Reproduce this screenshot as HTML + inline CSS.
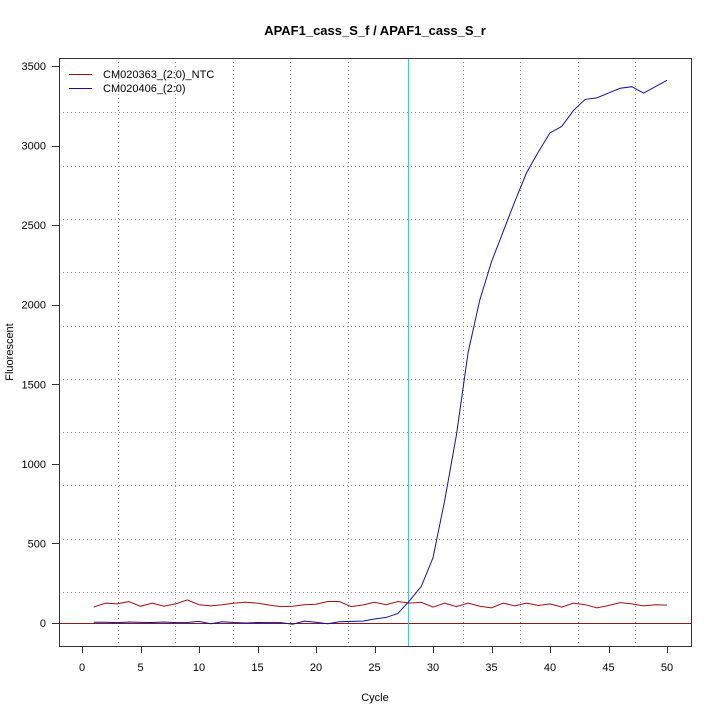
<!DOCTYPE html>
<html><head><style>body{margin:0;background:#fff}svg{display:block}text{font-family:"Liberation Sans",sans-serif;font-size:11px;fill:#000}</style></head>
<body>
<svg id="s" width="720" height="720" xmlns="http://www.w3.org/2000/svg">
<rect width="720" height="720" fill="#fff"/>
<text x="375" y="35" text-anchor="middle" style="font-size:13px;font-weight:bold">APAF1_cass_S_f / APAF1_cass_S_r</text>
<g id="grid" stroke="#888" stroke-dasharray="1,3" stroke-width="1"></g>
<line x1="59" y1="623.5" x2="691" y2="623.5" stroke="#8b1a1a"/>
<line x1="408.5" y1="58" x2="408.5" y2="646" stroke="#00e5ee"/>
<path id="red" fill="none" stroke="#a01010" stroke-width="1"/>
<path id="blue" fill="none" stroke="#1010a0" stroke-width="1"/>
<rect x="59.5" y="58.5" width="632" height="588" fill="none" stroke="#333"/>
<g id="ax" stroke="#333"></g>
<g id="lb"></g>
<line x1="69" y1="74.5" x2="92" y2="74.5" stroke="#a01010"/>
<line x1="69" y1="88.5" x2="92" y2="88.5" stroke="#1010a0"/>
<text x="103" y="78">CM020363_(2:0)_NTC</text>
<text x="103" y="92">CM020406_(2:0)</text>
<text x="375" y="701" text-anchor="middle">Cycle</text>
<text x="13" y="352" text-anchor="middle" transform="rotate(-90 13 352)">Fluorescent</text>
</svg>
<script>
var X=c=>82+c*11.7, Y=v=>623-v*0.15914, ns="http://www.w3.org/2000/svg";
function el(p,t,a,txt){var e=document.createElementNS(ns,t);for(var k in a)e.setAttribute(k,a[k]);if(txt!=null)e.textContent=txt;document.getElementById(p).appendChild(e);}
for(var i=0;i<10;i++){var x=Math.round(117.5+i*57.5)+0.5;if(Math.abs(x-408)>3)el("grid","line",{x1:x,y1:58,x2:x,y2:646});}
for(var i=0;i<10;i++){var y=Math.round(592-i*53.3)+0.5;el("grid","line",{x1:59,y1:y,x2:691,y2:y});}
for(var c=0;c<=50;c+=5){var x=Math.round(X(c))+0.5;el("ax","line",{x1:x,y1:646,x2:x,y2:653});el("lb","text",{x:X(c),y:671,"text-anchor":"middle"},c);}
for(var v=0;v<=3500;v+=500){var y=Math.round(Y(v))+0.5;el("ax","line",{x1:52,y1:y,x2:59,y2:y});el("lb","text",{x:46,y:Y(v)+4,"text-anchor":"end"},v);}
var r=[100,125,120,135,105,125,105,120,145,115,108,115,125,130,125,112,103,105,115,118,135,135,103,113,130,115,135,125,130,100,125,103,125,105,95,125,108,125,110,120,100,125,115,95,110,128,120,108,115,112];
var b=[5,5,2,6,4,3,6,2,3,10,-5,8,3,0,3,2,2,-8,12,5,-5,8,10,12,25,35,60,140,230,410,770,1180,1700,2030,2270,2460,2650,2830,2960,3080,3120,3220,3290,3300,3330,3360,3370,3330,3370,3410];
document.getElementById("red").setAttribute("d",r.map((v,i)=>(i?"L":"M")+X(i+1)+","+Y(v)).join(""));
document.getElementById("blue").setAttribute("d",b.map((v,i)=>(i?"L":"M")+X(i+1)+","+Y(v)).join(""));
</script>
</body></html>
